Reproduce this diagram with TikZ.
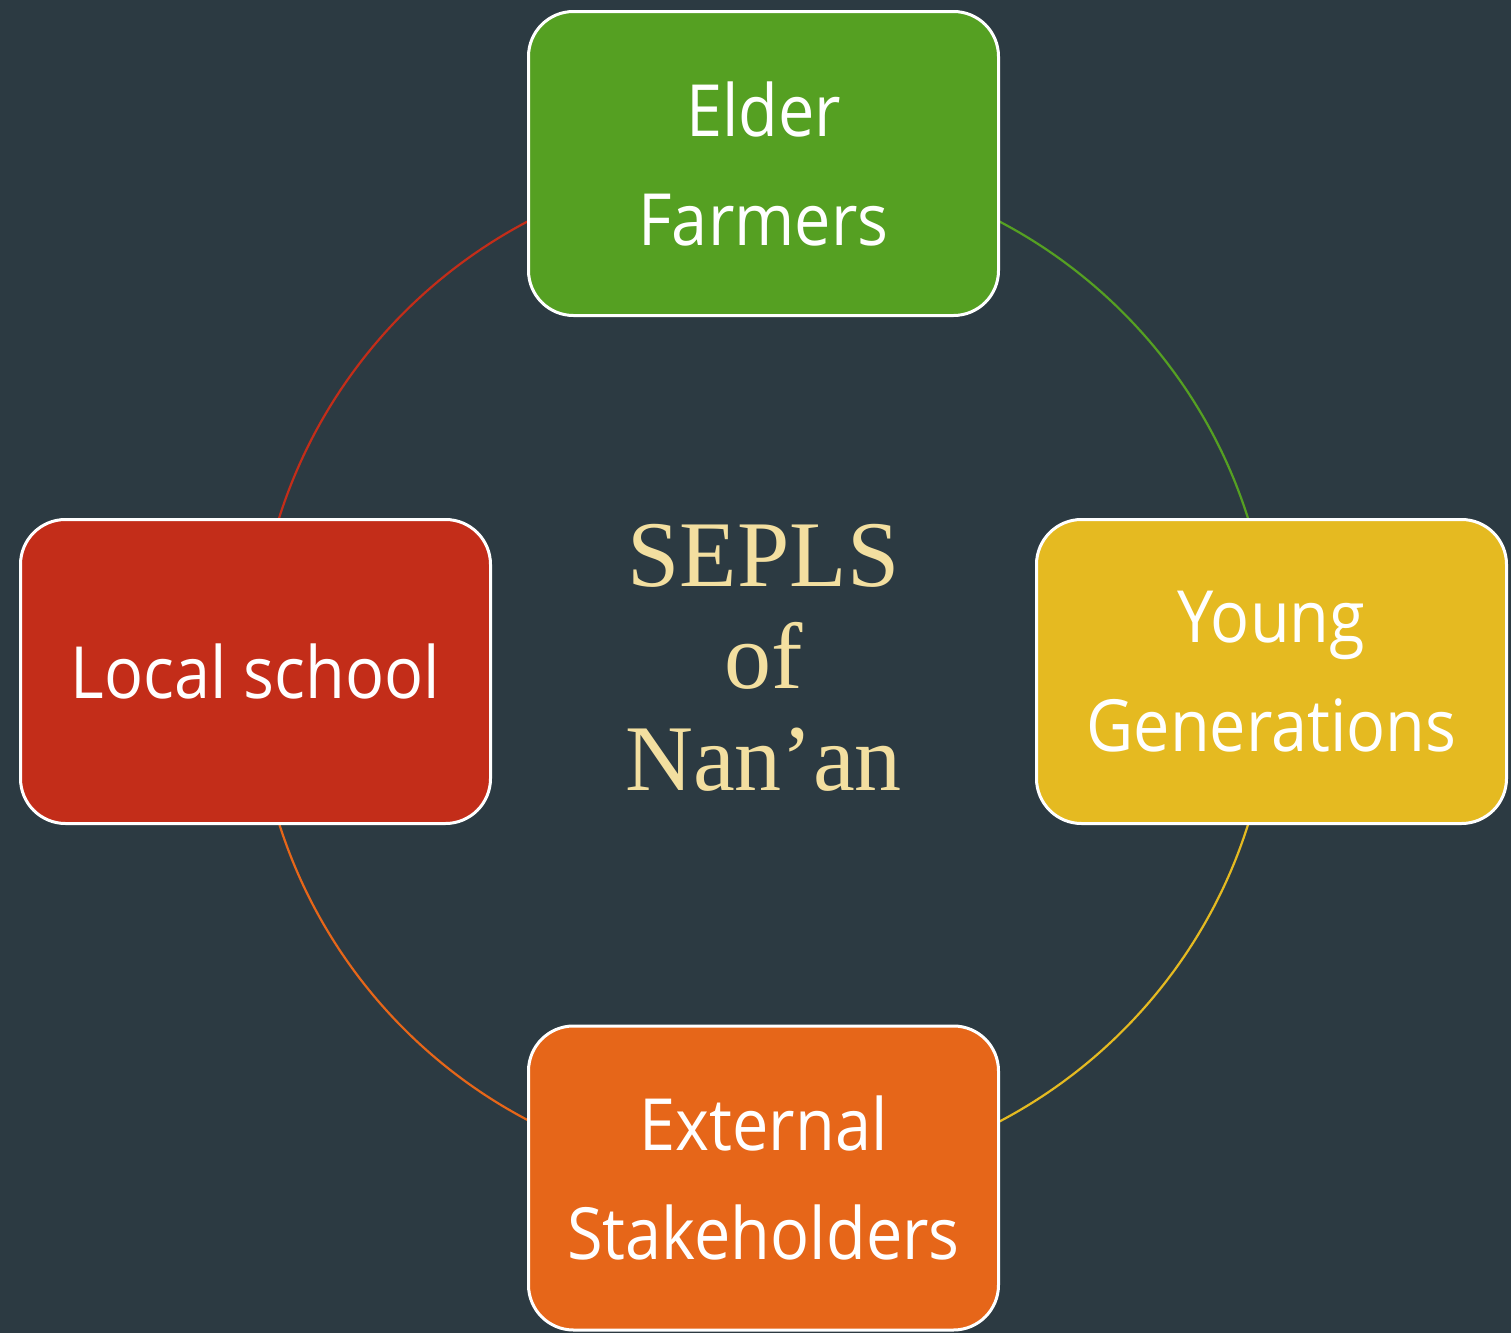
\documentclass[tikz,border=0pt]{standalone}
\usepackage{fontspec}
\setmainfont[FakeStretch=0.9]{Open Sans}
\newfontfamily\titlefont{Liberation Serif}
\usetikzlibrary{positioning}
\definecolor{bgc}{HTML}{2C3A42}
\definecolor{cgreen}{HTML}{55A022}
\definecolor{cred}{HTML}{C32D19}
\definecolor{cyellow}{HTML}{E5BA21}
\definecolor{corange}{HTML}{E66619}
\definecolor{cgold}{HTML}{F3DFA0}
\pgfdeclarelayer{bg}
\pgfdeclarelayer{arcs}
\pgfsetlayers{bg,arcs,main}
\tikzset{
  box/.style={draw=white, line width=1.5pt, rounded corners=22.5pt,
    minimum width=235pt, minimum height=152pt, text=white, align=center,
    font=\fontsize{36}{54.5}\selectfont, inner sep=0pt},
  ring/.style={line width=1.1pt},
}
\begin{document}
\begin{tikzpicture}[x=0.5pt,y=-0.5pt]
\begin{pgfonlayer}{bg}
\fill[bgc] (0,0) rectangle (1511,1333);
\end{pgfonlayer}
\useasboundingbox (0,0) rectangle (1511,1333);
\node[box, fill=cgreen] (top) at (763.5,163.5) {Elder\\Farmers};
\node[box, fill=cyellow] (right) at (1271.5,671.5) {Young\\Generations};
\node[box, fill=corange] (bottom) at (763.5,1178) {External\\Stakeholders};
\node[box, fill=cred] (left) at (255.5,671.5) {Local school};
\node[text=cgold, align=center, font=\titlefont\fontsize{47}{51}\selectfont] (center) at (763.5,658) {SEPLS\\of\\Nan’an};
\begin{pgfonlayer}{arcs}
\draw[ring, cgreen] (top.center) arc[start angle=-90, end angle=0, radius=508];
\draw[ring, cyellow] (right.center) arc[start angle=0, end angle=90, radius=508];
\draw[ring, corange] (bottom.center) arc[start angle=90, end angle=180, radius=508];
\draw[ring, cred] (left.center) arc[start angle=180, end angle=270, radius=508];
\end{pgfonlayer}
\end{tikzpicture}
\end{document}
